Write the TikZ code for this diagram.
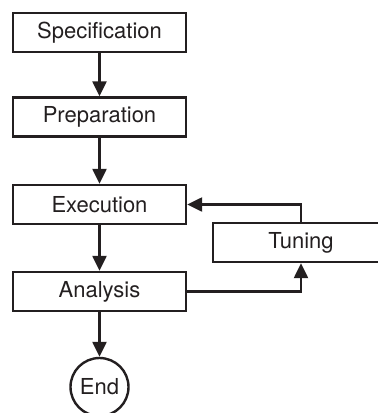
\documentclass[tikz,border=0pt]{standalone}
\usepackage{fontspec}
\setmainfont{TeX Gyre Heros}
\usetikzlibrary{arrows.meta}
\definecolor{ink}{HTML}{231F20}

\begin{document}
\begin{tikzpicture}[x=1pt, y=1pt, ink,
    stage/.style={draw, line width=2.4pt, minimum width=173pt, minimum height=39pt,
        inner sep=0pt, font=\fontsize{22}{26}\selectfont},
    stop/.style={draw, circle, line width=2.4pt, minimum size=58pt,
        inner sep=0pt, font=\fontsize{22}{26}\selectfont},
    flow/.style={line width=2.4pt, -{Triangle[length=15pt, width=14pt]}}]

% _____ Frame
\clip (0, 0) rectangle (378, -413);

% _____ Main column
\def\ColX{99.5}
\def\LoopX{301}

\node[stage] (spec) at (\ColX, -32.5) {Specification};
\node[stage] (prep) at (\ColX, -117) {Preparation};
\node[stage] (exec) at (\ColX, -204.5) {Execution};
\node[stage] (ana)  at (\ColX, -291.5) {Analysis};
\node[stop]  (end)  at (\ColX, -387) {End};

% _____ Tuning loop
\node[stage, minimum width=176pt] (tune) at (\LoopX, -242.5) {Tuning};

\draw[flow] (spec) -- (prep);
\draw[flow] (prep) -- (exec);
\draw[flow] (exec) -- (ana);
\draw[flow] (ana) -- (end);

\draw[flow] (tune.north) |- (exec.east);
\draw[flow] (ana.east) -| (tune.south);

\end{tikzpicture}
\end{document}
